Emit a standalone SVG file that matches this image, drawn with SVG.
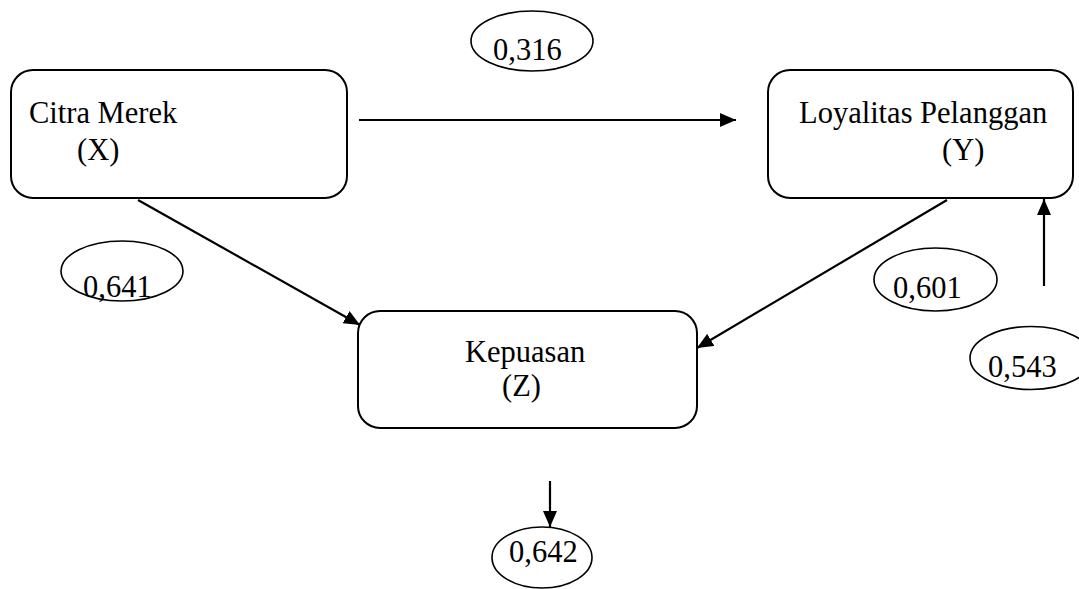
<svg xmlns="http://www.w3.org/2000/svg" width="1079" height="589" viewBox="0 0 1079 589">
  <style>
    .box { fill: #fff; stroke: #000; stroke-width: 2; }
    .oval { fill: none; stroke: #000; stroke-width: 1.6; }
    .lbl { font-family: "Liberation Serif", "Times New Roman", serif; font-size: 30.5px; fill: #000; }
    .edge { stroke: #000; stroke-width: 2.2; fill: none; marker-end: url(#head); }
  </style>
  <defs>
    <marker id="head" markerUnits="userSpaceOnUse" markerWidth="16" markerHeight="14" refX="16" refY="7" orient="auto">
      <path d="M0,0 L16,7 L0,14 z" fill="#000"/>
    </marker>
  </defs>
  <rect width="1079" height="589" fill="#fff"/>

  <g id="connectors">
    <line class="edge" x1="359" y1="120" x2="736" y2="120"/>
    <line class="edge" x1="138" y1="200" x2="360" y2="325"/>
    <line class="edge" x1="947" y1="200" x2="697" y2="348"/>
    <line class="edge" x1="1044" y1="286" x2="1044" y2="199"/>
    <line class="edge" x1="550" y1="481" x2="550" y2="527"/>
  </g>

  <g id="node-x">
    <rect class="box" x="11" y="70" width="336" height="128" rx="22"/>
    <text class="lbl" x="29" y="123">Citra Merek</text>
    <text class="lbl" x="77" y="160">(X)</text>
  </g>

  <g id="node-y">
    <rect class="box" x="768" y="70" width="305" height="128" rx="22"/>
    <text class="lbl" x="799" y="123">Loyalitas Pelanggan</text>
    <text class="lbl" x="942" y="160">(Y)</text>
  </g>

  <g id="node-z">
    <rect class="box" x="358" y="311" width="339" height="117" rx="22"/>
    <text class="lbl" x="465" y="362">Kepuasan</text>
    <text class="lbl" x="502" y="396">(Z)</text>
  </g>

  <g id="coef-xy">
    <ellipse class="oval" cx="532" cy="41" rx="61" ry="30"/>
    <text class="lbl" x="493" y="60">0,316</text>
  </g>

  <g id="coef-xz">
    <ellipse class="oval" cx="122" cy="271" rx="61" ry="30"/>
    <text class="lbl" x="83" y="297">0,641</text>
  </g>

  <g id="coef-yz">
    <ellipse class="oval" cx="935.5" cy="279.5" rx="61.5" ry="31.5"/>
    <text class="lbl" x="893" y="298">0,601</text>
  </g>

  <g id="coef-ey">
    <ellipse class="oval" cx="1031" cy="358" rx="61" ry="31.5"/>
    <text class="lbl" x="988" y="377">0,543</text>
  </g>

  <g id="coef-ez">
    <ellipse class="oval" cx="542" cy="557.5" rx="50" ry="30.5"/>
    <text class="lbl" x="509" y="562">0,642</text>
  </g>
</svg>
